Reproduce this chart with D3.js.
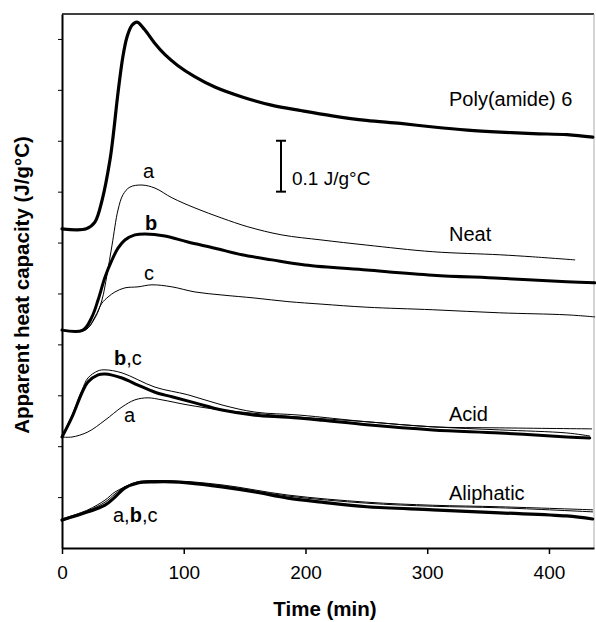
<!DOCTYPE html>
<html><head><meta charset="utf-8">
<script src="https://cdn.jsdelivr.net/npm/d3@7"></script>
<style>html,body{margin:0;padding:0;background:#fff;}svg{display:block;font-family:"Liberation Sans",Arial,Helvetica,sans-serif;}</style>
</head><body>
<svg id="chart" width="596" height="622"></svg>
<script>
// ---- data (time in min, apparent heat capacity in J/g°C, offset traces) ----
const xTicks = [0, 100, 200, 300, 400];
const yTicks = [0.1, 0.2, 0.3, 0.4, 0.5, 0.6, 0.7, 0.8, 0.9, 1.0];

const pa6T = [0, 20, 27, 33, 39.4, 41.9, 46, 50, 53.4, 57.5, 61.6, 68, 76, 84.6, 95, 109, 126, 148, 172, 197, 222, 250, 278, 305, 333, 360, 387, 415, 436];
const pa6V = [0.627, 0.627, 0.640, 0.684, 0.762, 0.807, 0.894, 0.965, 1.004, 1.027, 1.033, 1.018, 0.992, 0.969, 0.948, 0.926, 0.905, 0.886, 0.870, 0.859, 0.849, 0.840, 0.834, 0.827, 0.821, 0.817, 0.814, 0.812, 0.807];

const neatAT = [0, 18.9, 27.1, 32.8, 36.9, 41.1, 46, 50.1, 55.8, 65.7, 76.4, 90.3, 109.2, 131.4, 152.7, 180.6, 213.5, 250.4, 304.6, 359.6, 386.7, 421.2];
const neatAV = [0.428, 0.428, 0.452, 0.487, 0.536, 0.595, 0.664, 0.694, 0.709, 0.713, 0.707, 0.688, 0.668, 0.648, 0.631, 0.615, 0.605, 0.595, 0.582, 0.576, 0.572, 0.566];

const neatBT = [0, 17.2, 24.6, 29.6, 35.3, 41.1, 46, 51.7, 59.9, 68.1, 84.6, 103.4, 125.6, 147.8, 172.4, 199.5, 250.4, 304.6, 359.6, 414.6, 437.6];
const neatBV = [0.428, 0.428, 0.454, 0.487, 0.532, 0.566, 0.589, 0.605, 0.615, 0.617, 0.613, 0.601, 0.589, 0.576, 0.566, 0.556, 0.546, 0.536, 0.530, 0.523, 0.521];

const neatCT = [0, 18.9, 27.1, 32.8, 37.8, 43.5, 51.7, 62.4, 73.9, 90.3, 109.2, 131.4, 158.5, 185.6, 213.5, 250.4, 304.6, 359.6, 414.6, 437.6];
const neatCV = [0.428, 0.428, 0.454, 0.481, 0.493, 0.503, 0.511, 0.513, 0.517, 0.513, 0.503, 0.497, 0.491, 0.484, 0.479, 0.473, 0.468, 0.462, 0.458, 0.454];

const acidAT = [0, 8.2, 21.3, 35.3, 49.3, 59.9, 70.6, 82.1, 103.4, 131.4, 185.6, 250.4, 304.6, 359.6, 435.1];
const acidAV = [0.218, 0.218, 0.228, 0.251, 0.277, 0.291, 0.295, 0.291, 0.281, 0.271, 0.259, 0.248, 0.238, 0.236, 0.234];

const acidBT = [0, 8.2, 16.4, 21.3, 29.6, 35.3, 49.3, 62.4, 76.4, 90.3, 109.2, 131.4, 158.5, 185.6, 213.5, 250.4, 304.6, 359.6, 414.6, 433.5];
const acidBV = [0.218, 0.257, 0.305, 0.326, 0.340, 0.342, 0.334, 0.320, 0.306, 0.297, 0.285, 0.271, 0.261, 0.257, 0.251, 0.242, 0.232, 0.226, 0.218, 0.216];

const acidCT = [0, 8.2, 16.4, 21.3, 29.6, 35.3, 49.3, 76.4, 103.4, 131.4, 158.5, 195.4, 250.4, 304.6, 359.6, 414.6, 433.5];
const acidCV = [0.218, 0.261, 0.310, 0.334, 0.348, 0.350, 0.344, 0.316, 0.301, 0.281, 0.267, 0.261, 0.248, 0.238, 0.232, 0.226, 0.220];

const aliAT = [0, 21.3, 35.3, 43.5, 51.7, 62.4, 90.3, 131.4, 185.6, 250.4, 304.6, 359.6, 435.9];
const aliAV = [0.057, 0.075, 0.094, 0.110, 0.120, 0.130, 0.132, 0.124, 0.104, 0.090, 0.084, 0.081, 0.075];

const aliBT = [0, 21.3, 35.3, 43.5, 51.7, 62.4, 76.4, 90.3, 103.4, 131.4, 158.5, 185.6, 213.5, 250.4, 304.6, 359.6, 414.6, 435.9];
const aliBV = [0.055, 0.071, 0.084, 0.100, 0.118, 0.128, 0.130, 0.130, 0.128, 0.120, 0.110, 0.098, 0.090, 0.081, 0.075, 0.069, 0.063, 0.057];

const aliCT = [0, 21.3, 35.3, 43.5, 51.7, 62.4, 90.3, 131.4, 185.6, 250.4, 304.6, 359.6, 435.9];
const aliCV = [0.053, 0.073, 0.090, 0.106, 0.120, 0.128, 0.130, 0.122, 0.102, 0.088, 0.082, 0.079, 0.071];

const series = [
  {t: neatAT, v: neatAV, w: 1},
  {t: neatCT, v: neatCV, w: 1},
  {t: neatBT, v: neatBV, w: 3},
  {t: acidAT, v: acidAV, w: 1},
  {t: acidBT, v: acidBV, w: 3},
  {t: acidCT, v: acidCV, w: 1},
  {t: aliBT, v: aliBV, w: 3.2},
  {t: aliAT, v: aliAV, w: 1},
  {t: aliCT, v: aliCV, w: 1},
  {t: pa6T, v: pa6V, w: 3.2}
];

// ---- chart ----
const svg = d3.select("#chart");
const mLeft = 62, mRight = 594, mTop = 14, mBottom = 548;
const x = d3.scaleLinear().domain([0, 437]).range([mLeft, mRight]);
const y = d3.scaleLinear().domain([0, 1.049]).range([mBottom, mTop]);

// frame (top and right)
svg.append("line").attr("x1", mLeft).attr("x2", mRight).attr("y1", mTop).attr("y2", mTop)
  .attr("stroke", "#000").attr("stroke-width", 1.5);
svg.append("line").attr("x1", mRight).attr("x2", mRight).attr("y1", mTop).attr("y2", mBottom)
  .attr("stroke", "#aaa").attr("stroke-width", 1);

const line = d3.line().x(d => x(d[0])).y(d => y(d[1])).curve(d3.curveCatmullRom.alpha(0.5));
series.forEach(s => {
  const pts = s.t.map((t, i) => [t, s.v[i]]);
  svg.append("path").attr("d", line(pts)).attr("fill", "none")
    .attr("stroke", "#000").attr("stroke-width", s.w)
    .attr("stroke-linejoin", "round").attr("stroke-linecap", "round");
});

// axes
const xAxis = svg.append("g").attr("transform", `translate(0,${mBottom})`)
  .call(d3.axisBottom(x).tickValues(xTicks).tickSize(6).tickSizeOuter(0).tickFormat(d3.format("d")));
xAxis.select(".domain").attr("stroke-width", 2);
xAxis.selectAll(".tick line").attr("stroke-width", 1.5);
xAxis.selectAll("text").attr("font-size", 19).attr("dy", "1.15em")
  .attr("font-family", "Liberation Sans, Arial, sans-serif");

const yAxis = svg.append("g").attr("transform", `translate(${mLeft},0)`)
  .call(d3.axisLeft(y).tickValues(yTicks).tickSize(4).tickSizeOuter(0).tickFormat(""));
yAxis.select(".domain").attr("stroke-width", 2);
yAxis.selectAll(".tick line").attr("stroke-width", 1);

// axis titles
svg.append("text").attr("x", (mLeft + mRight) / 2 - 3).attr("y", 616).attr("text-anchor", "middle")
  .attr("font-size", 20.5).attr("font-weight", "bold").text("Time (min)");
svg.append("text").attr("transform", `translate(29,${(mTop + mBottom) / 2 + 4}) rotate(-90)`)
  .attr("text-anchor", "middle").attr("font-size", 20.5).attr("font-weight", "bold")
  .text("Apparent heat capacity (J/g°C)");

// scale bar 0.1 J/g°C
const barX = 281, barY0 = y(0.8), barY1 = y(0.7);
const bar = svg.append("g").attr("stroke", "#000").attr("stroke-width", 2);
bar.append("line").attr("x1", barX).attr("x2", barX).attr("y1", barY0).attr("y2", barY1);
bar.append("line").attr("x1", barX - 5).attr("x2", barX + 5).attr("y1", barY0).attr("y2", barY0);
bar.append("line").attr("x1", barX - 5).attr("x2", barX + 5).attr("y1", barY1).attr("y2", barY1);
svg.append("text").attr("x", 292).attr("y", 185).attr("font-size", 19).text("0.1 J/g°C");

// annotations
const ann = [
  ["Poly(amide) 6", 449, 106],
  ["Neat", 449, 241],
  ["Acid", 449, 421],
  ["Aliphatic", 449, 500],
  ["a", 143, 178],
  ["c", 144, 280],
  ["a", 124, 422]
];
ann.forEach(a => svg.append("text").attr("x", a[1]).attr("y", a[2]).attr("font-size", 20).text(a[0]));

svg.append("text").attr("x", 145).attr("y", 230).attr("font-size", 20).attr("font-weight", "bold").text("b");
const bc = svg.append("text").attr("x", 114).attr("y", 365).attr("font-size", 20);
bc.append("tspan").attr("font-weight", "bold").text("b");
bc.append("tspan").text(",c");
const abc = svg.append("text").attr("x", 113).attr("y", 522).attr("font-size", 20);
abc.append("tspan").text("a,");
abc.append("tspan").attr("font-weight", "bold").text("b");
abc.append("tspan").text(",c");
</script>
</body></html>
